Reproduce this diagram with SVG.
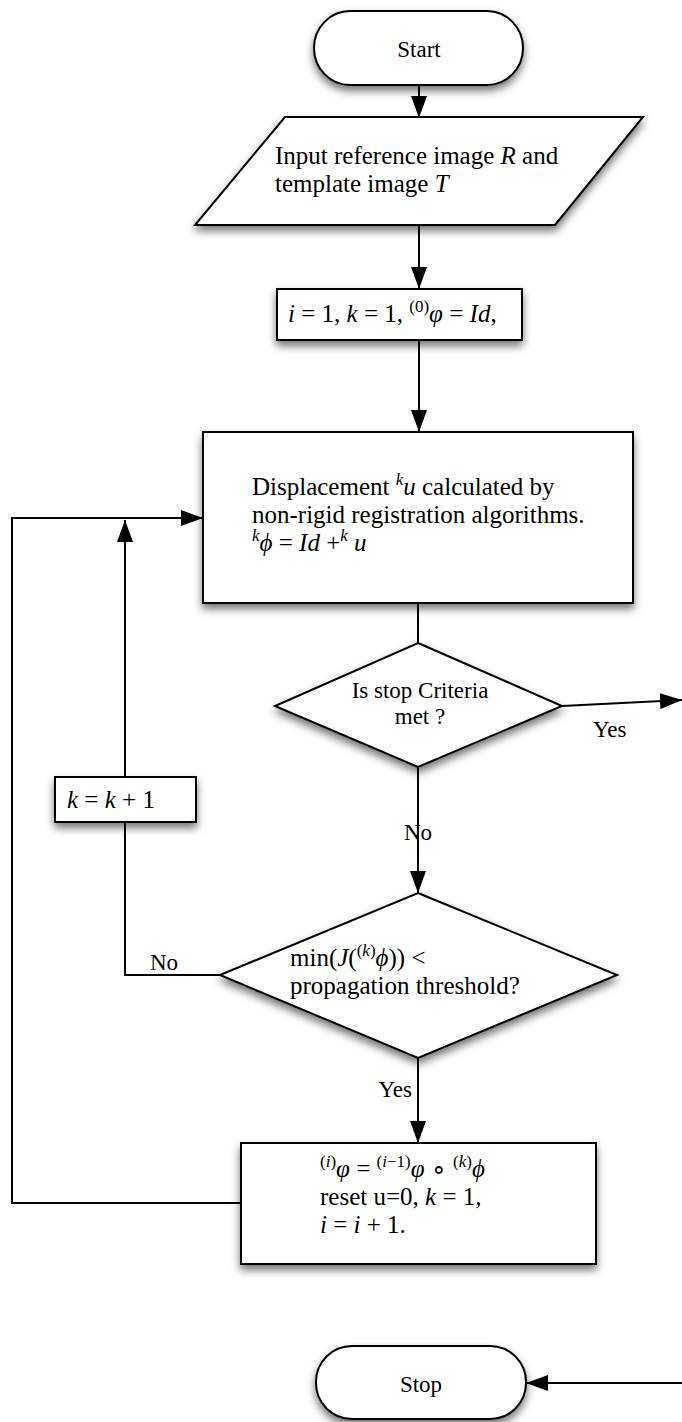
<svg xmlns="http://www.w3.org/2000/svg" width="682" height="1422" viewBox="0 0 682 1422">
<defs>
<filter id="sh" x="-20%" y="-20%" width="140%" height="150%"><feDropShadow dx="0" dy="5" stdDeviation="4" flood-color="#000" flood-opacity="0.55"/></filter>
<marker id="ah" markerUnits="userSpaceOnUse" markerWidth="22" markerHeight="16" refX="22" refY="8" orient="auto"><path d="M0,0 L22,8 L0,16 z" fill="#000"/></marker>
</defs>
<style>
.shape{fill:#fff;stroke:#000;stroke-width:2;filter:url(#sh)}
.conn{fill:none;stroke:#000;stroke-width:2}
.arr{marker-end:url(#ah)}
.tm{font-family:"Liberation Serif","Times New Roman",serif;font-size:23px;fill:#000}
.cm{font-family:"Liberation Serif","Times New Roman",serif;font-size:25px;fill:#000}
.i{font-style:italic}
.sup{font-size:17px;baseline-shift:10px}
</style>
<rect x="0" y="0" width="682" height="1422" fill="#fff"/>

<g id="connectors">
<path class="conn arr" d="M419,86 L419,118"/>
<path class="conn arr" d="M419,225 L419,289"/>
<path class="conn arr" d="M419,340 L419,432"/>
<path class="conn" d="M418,603 L418,643"/>
<path class="conn arr" d="M562,706 L682,700"/>
<path class="conn arr" d="M682,1383 L526,1383"/>
<path class="conn arr" d="M418,767 L418,893"/>
<path class="conn" d="M220,975 L125,975 L125,822"/>
<path class="conn arr" d="M125,777 L125,520"/>
<path class="conn arr" d="M418,1058 L418,1143"/>
<path class="conn arr" d="M241,1203 L12,1203 L12,518 L203,518"/>
<text class="tm" x="593" y="737">Yes</text>
<text class="tm" x="418" y="840" text-anchor="middle">No</text>
<text class="tm" x="150" y="970">No</text>
<text class="tm" x="412" y="1097" text-anchor="end">Yes</text>
</g>

<g id="start">
<rect class="shape" x="314" y="11" width="209" height="74" rx="36" ry="37"/>
<text class="tm" x="419" y="57" text-anchor="middle">Start</text>
</g>

<g id="input">
<polygon class="shape" points="285,117 643,117 555,225 195,225"/>
<text class="cm" x="275" y="164">Input reference image <tspan class="i">R</tspan> and</text>
<text class="cm" x="275" y="192">template image <tspan class="i">T</tspan></text>
</g>

<g id="init">
<rect class="shape" x="277" y="289" width="245" height="51"/>
<text class="cm" x="288" y="322"><tspan class="i">i</tspan> = 1, <tspan class="i">k</tspan> = 1, <tspan class="sup">(0)</tspan><tspan class="i">φ</tspan> = <tspan class="i">Id</tspan>,</text>
</g>

<g id="displacement">
<rect class="shape" x="203" y="432" width="430" height="171"/>
<text class="cm" x="252" y="495">Displacement <tspan class="sup i">k</tspan><tspan class="i">u</tspan> calculated by</text>
<text class="cm" x="252" y="523">non-rigid registration algorithms.</text>
<text class="cm" x="252" y="551"><tspan class="sup i">k</tspan><tspan class="i">ϕ</tspan> = <tspan class="i">Id</tspan> +<tspan class="sup i">k</tspan> <tspan class="i">u</tspan></text>
</g>

<g id="stopcheck">
<polygon class="shape" points="418,643 562,706 418,767 275,706"/>
<text class="tm" x="420" y="698" text-anchor="middle">Is stop Criteria</text>
<text class="tm" x="420" y="724" text-anchor="middle">met ?</text>
</g>

<g id="kinc">
<rect class="shape" x="55" y="777" width="141" height="45"/>
<text class="cm" x="67" y="808"><tspan class="i">k</tspan> = <tspan class="i">k</tspan> + 1</text>
</g>

<g id="threshold">
<polygon class="shape" points="418,893 617,975 418,1058 220,975"/>
<text class="cm" x="290" y="966">min(<tspan class="i">J</tspan>(<tspan class="sup">(<tspan class="i">k</tspan>)</tspan><tspan class="i">ϕ</tspan>)) &lt;</text>
<text class="cm" x="290" y="994">propagation threshold?</text>
</g>

<g id="reset">
<rect class="shape" x="241" y="1143" width="355" height="121"/>
<text class="cm" x="320" y="1177"><tspan class="sup">(<tspan class="i">i</tspan>)</tspan><tspan class="i">φ</tspan> = <tspan class="sup">(<tspan class="i">i</tspan>−1)</tspan><tspan class="i">φ</tspan> ∘ <tspan class="sup">(<tspan class="i">k</tspan>)</tspan><tspan class="i">ϕ</tspan></text>
<text class="cm" x="320" y="1205">reset u=0, <tspan class="i">k</tspan> = 1,</text>
<text class="cm" x="320" y="1233"><tspan class="i">i</tspan> = <tspan class="i">i</tspan> + 1.</text>
</g>

<g id="stop">
<rect class="shape" x="316" y="1346" width="210" height="73" rx="36" ry="36"/>
<text class="tm" x="421" y="1392" text-anchor="middle">Stop</text>
</g>
</svg>
